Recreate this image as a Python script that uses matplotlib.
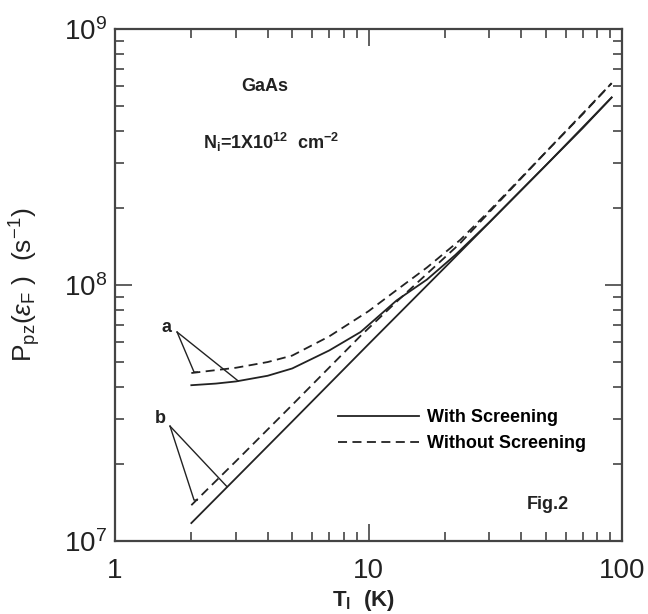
import matplotlib
matplotlib.use("Agg")
import matplotlib.pyplot as plt
from matplotlib.ticker import LogLocator, NullFormatter, FixedLocator, FixedFormatter

plt.rcParams["font.family"] = ["Liberation Sans", "DejaVu Sans"]
plt.rcParams["mathtext.fontset"] = "custom"
plt.rcParams["mathtext.rm"] = "Liberation Sans"
plt.rcParams["mathtext.it"] = "Liberation Sans:italic"
plt.rcParams["mathtext.bf"] = "Liberation Sans:bold"

# curve a: with / without screening
t_a_scr = [2, 2.5, 3, 4, 5, 7, 9.3, 12.9, 17, 22, 30, 50, 70, 91]
p_a_scr = [4.06e7, 4.12e7, 4.2e7, 4.42e7, 4.72e7, 5.55e7, 6.55e7, 8.7e7,
           1.05e8, 1.31e8, 1.76e8, 2.93e8, 4.1e8, 5.4e8]
t_a_noscr = [2, 3, 4, 5, 7, 10, 12.9, 17, 23, 30, 50, 70, 91]
p_a_noscr = [4.53e7, 4.75e7, 5.0e7, 5.3e7, 6.3e7, 7.9e7, 9.55e7, 1.17e8,
             1.5e8, 1.95e8, 3.3e8, 4.65e8, 6.14e8]
# curve b: with / without screening
t_b_scr = [2, 3, 5, 10, 20, 50, 91]
p_b_scr = [1.175e7, 1.76e7, 2.93e7, 5.87e7, 1.17e8, 2.93e8, 5.4e8]
t_b_noscr = [2, 3, 5, 9.35, 12.9, 22.9, 50, 91]
p_b_noscr = [1.38e7, 2.05e7, 3.4e7, 6.36e7, 8.6e7, 1.45e8, 3.3e8, 6.14e8]

INK = "#222222"
LW = 1.3
DASH = (5, 3)

fig = plt.figure(figsize=(6.48, 6.14), dpi=100)
ax = fig.add_axes([0.1775, 0.1189, 0.7824, 0.8339])

ax.plot(t_a_scr, p_a_scr, color=INK, lw=LW, label="With Screening")
ax.plot(t_a_noscr, p_a_noscr, color=INK, lw=LW, dashes=DASH,
        label="Without Screening")
ax.plot(t_b_scr, p_b_scr, color=INK, lw=LW)
ax.plot(t_b_noscr, p_b_noscr, color=INK, lw=LW, dashes=DASH)

ax.set_xscale("log")
ax.set_yscale("log")
ax.set_xlim(1, 100)
ax.set_ylim(1e7, 1e9)

# pointer labels a and b
pointers = {
    "a": ((1.59, 6.8e7), (1.757, 6.55e7), (2.05, 4.57e7), (3.06, 4.22e7)),
    "b": ((1.505, 3.02e7), (1.648, 2.81e7), (2.05, 1.445e7), (2.765, 1.63e7)),
}
for name, (txt, apex, tip1, tip2) in pointers.items():
    ax.text(*txt, name, fontsize=13, fontweight="bold", color=INK,
            ha="center", va="center")
    ax.plot([apex[0], tip1[0], tip1[0] * 1.03], [apex[1], tip1[1], tip1[1]],
            color=INK, lw=1.0)
    ax.plot([apex[0], tip2[0]], [apex[1], tip2[1]], color=INK, lw=1.0)

ax.text(0.296, 0.887, "GaAs", transform=ax.transAxes, fontsize=13,
        fontweight="bold", color=INK, ha="center", va="center")
ax.text(0.174, 0.779, r"N$_\mathbf{i}$=1X10$^\mathbf{12}$  cm$^\mathbf{-2}$",
        transform=ax.transAxes, fontsize=13, fontweight="bold", color=INK,
        ha="left", va="center")
ax.text(0.813, 0.072, "Fig.2", transform=ax.transAxes, fontsize=13,
        fontweight="bold", color=INK, ha="left", va="center")

ax.legend(loc="upper left", bbox_to_anchor=(0.44, 0.258), frameon=False,
          prop={"weight": "bold", "size": 13}, handlelength=4.5,
          handletextpad=0.45, labelspacing=0.5, borderpad=0,
          borderaxespad=0)

ax.xaxis.set_major_locator(FixedLocator([1, 10, 100]))
ax.xaxis.set_major_formatter(FixedFormatter(["1", "10", "100"]))
ax.xaxis.set_minor_locator(LogLocator(base=10, subs=range(2, 10)))
ax.xaxis.set_minor_formatter(NullFormatter())
ax.yaxis.set_minor_locator(LogLocator(base=10, subs=range(2, 10)))
ax.yaxis.set_minor_formatter(NullFormatter())

ax.tick_params(which="both", direction="in", top=True, right=True,
               color="#444444", width=1.2)
ax.tick_params(which="major", length=12, labelsize=20, labelcolor=INK)
ax.tick_params(which="minor", length=6.5)
ax.tick_params(axis="x", which="major", pad=12)
ax.tick_params(axis="y", which="major", pad=6)
for s in ax.spines.values():
    s.set_linewidth(1.6)
    s.set_color("#444444")

ax.set_ylabel(r"P$_{\rm pz}$($\epsilon_{\rm F}$ )  (s$^{-1}$)", fontsize=19,
              color=INK)
ax.yaxis.set_label_coords(-0.142, 0.5)
ax.set_xlabel(r"T$_\mathbf{l}$  (K)", fontsize=16, fontweight="bold",
              color=INK)
ax.xaxis.set_label_coords(0.49, -0.092)

fig.savefig("out.png", dpi=100)
